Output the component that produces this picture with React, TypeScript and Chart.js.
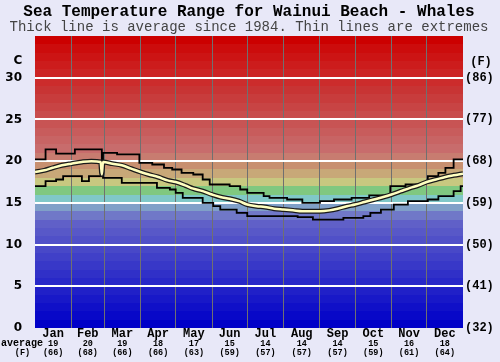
import React, { useEffect, useRef } from 'react';
import { Chart, registerables } from 'chart.js';

Chart.register(...registerables);

const TITLE = 'Sea Temperature Range for Wainui Beach - Whales';
const SUBTITLE = 'Thick line is average since 1984. Thin lines are extremes';

const MONTHS = ['Jan', 'Feb', 'Mar', 'Apr', 'May', 'Jun', 'Jul', 'Aug', 'Sep', 'Oct', 'Nov', 'Dec'];
const MONTH_START_DAYS = [0, 31, 59, 90, 120, 151, 181, 212, 243, 273, 304, 334];
const MONTH_MID_DAYS = [15.5, 45, 74.5, 105, 135.5, 166, 196.5, 227.5, 258, 288.5, 319, 349.5];
const MONTH_AVG_C = ['19', '20', '19', '18', '17', '15', '14', '14', '14', '15', '16', '18'];
const MONTH_AVG_F = ['(66)', '(68)', '(66)', '(66)', '(63)', '(59)', '(57)', '(57)', '(57)', '(59)', '(61)', '(64)'];

const Y_TICKS_C = [0, 5, 10, 15, 20, 25, 30];
const Y_TICKS_F = ['(32)', '(41)', '(50)', '(59)', '(68)', '(77)', '(86)'];

// Average (thick line)
const AVG_DAYS = [0, 8, 15, 23, 31, 40, 48, 56, 57, 58, 66, 74, 82, 90, 97, 105, 113, 120, 128, 135, 143, 151, 158, 166, 174, 181, 189, 196, 204, 212, 220, 228, 236, 243, 251, 258, 266, 273, 281, 289, 297, 304, 312, 320, 327, 334, 342, 350, 357, 365];
const AVG_TEMPS = [18.7, 18.9, 19.2, 19.5, 19.7, 19.9, 20.0, 19.9, 18.4, 19.9, 19.7, 19.5, 19.1, 18.7, 18.4, 18.1, 17.7, 17.5, 17.1, 16.7, 16.4, 16.0, 15.7, 15.5, 15.2, 14.8, 14.6, 14.5, 14.3, 14.2, 14.1, 14.0, 14.0, 14.0, 14.1, 14.3, 14.6, 14.8, 15.1, 15.4, 15.7, 16.0, 16.4, 16.8, 17.1, 17.5, 17.8, 18.1, 18.3, 18.5];

// Maximum extreme (thin line)
const MAX_DAYS = [0, 9, 18, 34, 57, 58, 70, 89, 100, 110, 117, 125, 135, 143, 149, 166, 175, 181, 195, 200, 215, 228, 243, 255, 270, 285, 303, 316, 329, 335, 344, 350, 357, 365];
const MAX_TEMPS = [20.2, 21.4, 20.9, 21.4, 20.2, 21.0, 20.8, 19.8, 19.6, 19.2, 19.0, 18.6, 18.4, 17.8, 17.2, 17.0, 16.6, 16.2, 15.8, 15.6, 15.4, 15.0, 15.2, 15.4, 15.6, 15.9, 17.0, 17.2, 17.4, 18.2, 18.6, 19.2, 20.2, 20.2];

// Minimum extreme (thin line)
const MIN_DAYS = [0, 9, 18, 24, 40, 46, 57, 58, 74, 104, 115, 120, 126, 143, 152, 158, 172, 181, 224, 237, 263, 280, 286, 295, 306, 318, 335, 344, 357, 363, 365];
const MIN_TEMPS = [17.0, 17.6, 17.8, 18.2, 17.6, 18.2, 18.6, 18.0, 17.4, 16.8, 16.6, 16.2, 15.6, 15.0, 14.6, 14.2, 13.8, 13.4, 13.3, 13.0, 13.2, 13.4, 13.8, 14.2, 14.8, 15.2, 15.4, 15.8, 16.4, 17.0, 17.0];

// Background colour bands, one per degree from 0 upward
const BAND_COLORS = [
  '#0000C8', '#0808C8', '#1010C8', '#1818C8', '#2020C8', '#2828C8', '#3030C8',
  '#3838C8', '#4040C8', '#4848C8', '#5050C8', '#5858C8', '#6060C8', '#7078C8',
  '#80A0C8', '#80C8C8', '#80C880', '#C8C880', '#C8A878', '#C89070', '#C87C70',
  '#C86C6C', '#C86464', '#C85C5C', '#C85454', '#C84C4C', '#C84444', '#C83C3C',
  '#C83434', '#CC2C2C', '#CC2424', '#CC1C1C', '#CC1414', '#CC0C0C', '#CC0000',
];

const PAGE_BG = '#E8E8F8';
const MONO = '"Liberation Mono", "DejaVu Sans Mono", monospace';

const toPoints = (xs: number[], ys: number[]) => xs.map((x, i) => ({ x, y: ys[i] }));

const bandsPlugin = {
  id: 'bands',
  beforeDraw(chart: any) {
    const { ctx, chartArea, scales } = chart;
    const y = scales.y;
    ctx.save();
    ctx.fillStyle = PAGE_BG;
    ctx.fillRect(0, 0, chart.width, chart.height);
    BAND_COLORS.forEach((c, i) => {
      const top = Math.round(y.getPixelForValue(i + 1));
      const bottom = Math.round(y.getPixelForValue(i));
      ctx.fillStyle = c;
      ctx.fillRect(chartArea.left, top, chartArea.right - chartArea.left, bottom - top);
    });
    ctx.restore();
  },
};

const textPlugin = {
  id: 'texts',
  afterDraw(chart: any) {
    const { ctx, scales } = chart;
    const x = scales.x;
    ctx.save();
    ctx.textAlign = 'center';
    ctx.textBaseline = 'middle';
    ctx.fillStyle = '#000';
    ctx.font = `bold 16px ${MONO}`;
    ctx.fillText(TITLE, 249, 12);
    ctx.fillStyle = '#444';
    ctx.font = `14px ${MONO}`;
    ctx.fillText(SUBTITLE, 249, 27);

    ctx.fillStyle = '#000';
    ctx.font = 'bold 12px "DejaVu Sans"';
    ctx.fillText('C', 18, 61);
    ctx.font = `bold 12px ${MONO}`;
    ctx.fillText('(F)', 481, 62);

    MONTHS.forEach((m, i) => {
      const px = x.getPixelForValue(MONTH_MID_DAYS[i]);
      ctx.font = `bold 12px ${MONO}`;
      ctx.fillText(m, px, 334);
      ctx.font = `bold 8.5px ${MONO}`;
      ctx.fillText(MONTH_AVG_C[i], px, 343.5);
      ctx.fillText(MONTH_AVG_F[i], px, 353);
    });
    ctx.font = `bold 10px ${MONO}`;
    ctx.fillText('average', 22, 343.5);
    ctx.font = `bold 8.5px ${MONO}`;
    ctx.fillText('(F)', 22.5, 353);
    ctx.restore();
  },
};

export default function App() {
  const ref = useRef<HTMLCanvasElement | null>(null);

  useEffect(() => {
    document.body.style.margin = '0';
    if (!ref.current) return;
    const chart = new Chart(ref.current, {
      type: 'line',
      data: {
        datasets: [
          {
            label: 'Average core',
            data: toPoints(AVG_DAYS, AVG_TEMPS),
            borderColor: '#FFFFC0',
            borderWidth: 2.5,
            pointRadius: 0,
            cubicInterpolationMode: 'monotone',
            order: 0,
          },
          {
            label: 'Average outline',
            data: toPoints(AVG_DAYS, AVG_TEMPS),
            borderColor: '#1a1a1a',
            borderWidth: 5,
            pointRadius: 0,
            cubicInterpolationMode: 'monotone',
            order: 1,
          },
          {
            label: 'Maximum',
            data: toPoints(MAX_DAYS, MAX_TEMPS),
            borderColor: '#000',
            borderWidth: 1.8,
            pointRadius: 0,
            stepped: 'before',
            order: 2,
          },
          {
            label: 'Minimum',
            data: toPoints(MIN_DAYS, MIN_TEMPS),
            borderColor: '#000',
            borderWidth: 1.8,
            pointRadius: 0,
            stepped: 'before',
            order: 3,
          },
        ],
      },
      options: {
        animation: false,
        responsive: false,
        devicePixelRatio: 1,
        layout: { padding: { top: 36, left: 0, right: 0, bottom: 0 } },
        plugins: {
          legend: { display: false },
          tooltip: { enabled: false },
          title: { display: false },
        },
        scales: {
          x: {
            type: 'linear',
            min: 0,
            max: 365,
            afterBuildTicks: (scale: any) => {
              scale.ticks = MONTH_START_DAYS.slice(1).map((v) => ({ value: v }));
            },
            afterFit: (scale: any) => {
              scale.height = 34;
            },
            ticks: { display: false },
            grid: { color: '#707070', lineWidth: 1, drawTicks: false },
            border: { display: false },
          },
          y: {
            position: 'left',
            min: 0,
            max: 35,
            afterBuildTicks: (scale: any) => {
              scale.ticks = [...Y_TICKS_C, 35].map((v) => ({ value: v }));
            },
            afterFit: (scale: any) => {
              scale.width = 35;
            },
            ticks: {
              padding: 13,
              color: '#000',
              font: { family: 'DejaVu Sans', weight: 'bold', size: 12 },
              callback: (v: any) => (Y_TICKS_C.includes(v) ? String(v) : ''),
            },
            grid: {
              drawTicks: false,
              lineWidth: 2,
              color: (c: any) => (c.tick && c.tick.value > 0 && c.tick.value < 35 ? '#FFFFFF' : 'rgba(0,0,0,0)'),
            },
            border: { display: false },
          },
          y2: {
            position: 'right',
            min: 0,
            max: 35,
            afterBuildTicks: (scale: any) => {
              scale.ticks = [...Y_TICKS_C, 35].map((v) => ({ value: v }));
            },
            afterFit: (scale: any) => {
              scale.width = 37;
            },
            ticks: {
              padding: 2,
              color: '#000',
              font: { family: 'Liberation Mono', weight: 'bold', size: 12 },
              callback: (v: any) => {
                const i = Y_TICKS_C.indexOf(v);
                return i >= 0 ? Y_TICKS_F[i] : '';
              },
            },
            grid: { display: false, drawTicks: false },
            border: { display: false },
          },
        },
      },
      plugins: [bandsPlugin, textPlugin],
    } as any);
    return () => chart.destroy();
  }, []);

  return (
    <div style={{ position: 'fixed', left: 0, top: 0, width: 500, height: 362, background: PAGE_BG }}>
      <canvas ref={ref} width={500} height={362} style={{ display: 'block' }} />
    </div>
  );
}
